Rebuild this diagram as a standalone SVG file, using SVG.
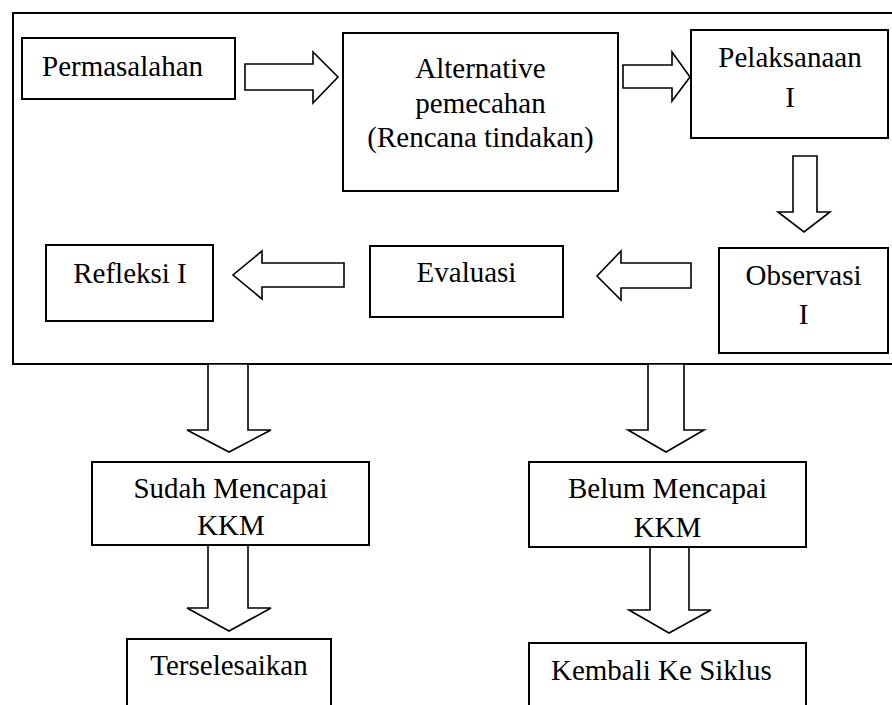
<svg xmlns="http://www.w3.org/2000/svg" width="892" height="705" viewBox="0 0 892 705">
<style>
.box{fill:#fff;stroke:#000;stroke-width:2}
.frame{fill:none;stroke:#000;stroke-width:2}
.arr{fill:#fff;stroke:#000;stroke-width:1.6;stroke-linejoin:miter}
text{font-family:"Liberation Serif","Times New Roman",serif;font-size:29px;fill:#000}
.c{text-anchor:middle}
</style>
<rect width="892" height="705" fill="#fff"/>
<path class="frame" d="M900 13 H13 V364 H900"/>
<g id="connectors">
<polygon class="arr" points="245,64 313,64 313,52 338,77 313,103 313,90 245,90"/>
<polygon class="arr" points="623,65 672,65 672,52 690,77 672,101 672,88 623,88"/>
<polygon class="arr" points="793,156 817,156 817,212 830,212 804,232 778,212 793,212"/>
<polygon class="arr" points="691,263 621,263 621,251 597,276 621,300 621,288 691,288"/>
<polygon class="arr" points="344,263 262,263 262,251 233,275 262,299 262,287 344,287"/>
<polygon class="arr" points="208,364 248,364 248,430 271,430 229,452 187,430 208,430"/>
<polygon class="arr" points="648,364 684,364 684,430 704,430 666,452 628,430 648,430"/>
<polygon class="arr" points="208,545 248,545 248,608 271,608 229,631 187,608 208,608"/>
<polygon class="arr" points="650,547 689,547 689,610 711,610 669,633 629,610 650,610"/>
</g>
<g id="permasalahan">
<rect class="box" x="22" y="38" width="213" height="61"/>
<text x="42" y="76">Permasalahan</text>
</g>
<g id="alternative">
<rect class="box" x="343" y="33" width="275" height="158"/>
<text class="c" x="480.5" y="78">Alternative</text>
<text class="c" x="480.5" y="113">pemecahan</text>
<text class="c" x="480.5" y="147">(Rencana tindakan)</text>
</g>
<g id="pelaksanaan">
<rect class="box" x="691" y="30" width="197" height="108"/>
<text class="c" x="790" y="67">Pelaksanaan</text>
<text class="c" x="790" y="107">I</text>
</g>
<g id="observasi">
<rect class="box" x="719" y="248" width="169" height="105"/>
<text class="c" x="803.5" y="285">Observasi</text>
<text class="c" x="803.5" y="324">I</text>
</g>
<g id="evaluasi">
<rect class="box" x="370" y="246" width="193" height="71"/>
<text class="c" x="466.5" y="282">Evaluasi</text>
</g>
<g id="refleksi">
<rect class="box" x="46" y="245" width="167" height="76"/>
<text class="c" x="130" y="283">Refleksi I</text>
</g>
<g id="sudah">
<rect class="box" x="92" y="462" width="277" height="83"/>
<text class="c" x="230.5" y="498">Sudah Mencapai</text>
<text class="c" x="231" y="535">KKM</text>
</g>
<g id="belum">
<rect class="box" x="529" y="462" width="277" height="85"/>
<text class="c" x="667.5" y="498">Belum Mencapai</text>
<text class="c" x="667.5" y="537">KKM</text>
</g>
<g id="terselesaikan">
<rect class="box" x="127" y="639" width="204" height="80"/>
<text class="c" x="229" y="675">Terselesaikan</text>
</g>
<g id="kembali">
<rect class="box" x="529" y="643" width="277" height="80"/>
<text x="551" y="680">Kembali Ke Siklus</text>
</g>
</svg>
